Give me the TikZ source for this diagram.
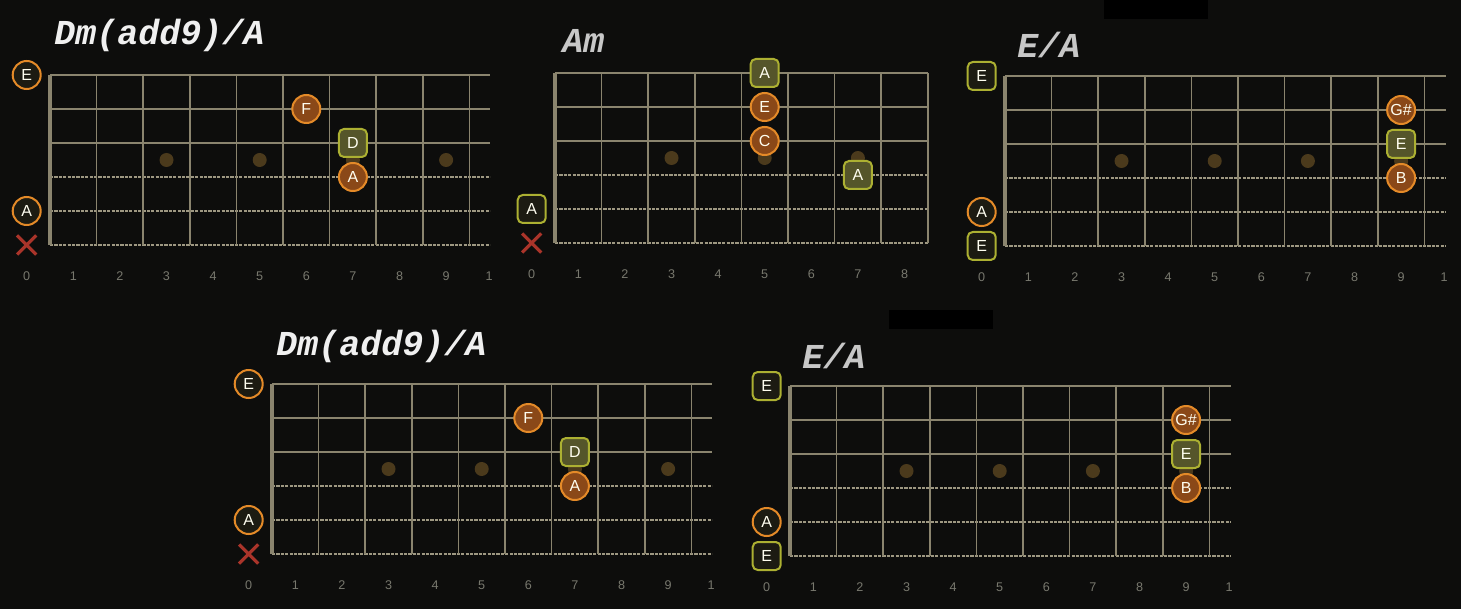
\documentclass[tikz,border=0pt]{standalone}
\usepackage{fontspec}
\setmainfont{Liberation Sans}
\newfontfamily\chordfont{Liberation Mono}
\usetikzlibrary{shapes.misc}

\definecolor{bgdark}{RGB}{13,13,12}
\definecolor{gridtan}{RGB}{138,132,110}
\definecolor{dottan}{RGB}{158,152,130}
\definecolor{inlaybrown}{RGB}{75,58,28}
\definecolor{orangeline}{RGB}{228,138,40}
\definecolor{orangefill}{RGB}{138,72,24}
\definecolor{olivefill}{RGB}{85,85,42}
\definecolor{oliveline}{RGB}{172,176,50}
\definecolor{openfill}{RGB}{28,27,18}
\definecolor{mutered}{RGB}{170,52,42}
\definecolor{numgrey}{RGB}{120,120,110}

\tikzset{
  gtrstring/.style={gridtan, line width=0.75pt},
  dotstring/.style={dottan, line width=1.3pt, dash pattern=on 1.6pt off 0.6pt},
  gtrfret/.style={gridtan, line width=0.75pt},
  gtrnut/.style={gridtan, line width=1.8pt},
  inlay/.style={inlaybrown},
  fretnum/.style={numgrey, font=\fontsize{6.3}{7}\selectfont, inner sep=0pt},
  chordname/.style={anchor=base west, inner sep=0pt,
    font=\chordfont\bfseries\itshape\fontsize{17.5}{20}\selectfont},
  note/.style={minimum size=14pt, inner sep=0pt, line width=1pt,
    text=white!94!yellow, font=\fontsize{8}{9}\selectfont},
  orangenote/.style={note, circle, draw=orangeline, fill=orangefill},
  orangeopen/.style={note, circle, draw=orangeline, fill=openfill},
  olivenote/.style={note, rectangle, rounded corners=2.5pt, draw=oliveline, fill=olivefill},
  oliveopen/.style={note, rectangle, rounded corners=2.5pt, draw=oliveline, fill=openfill},
  mutex/.style={cross out, draw=mutered, line width=1.6pt, minimum size=8pt, inner sep=0pt},
}

\def\fw{46.6}
% #1 prefix, #2 frets, #3 string length, #4 inlay frets
\newcommand{\neck}[4]{%
  \foreach \s in {0,1,2} \draw[gtrstring] (0,\s*34) -- (#3,\s*34);
  \foreach \s in {3,4,5} \draw[dotstring] (0,\s*34) -- (#3,\s*34);
  \foreach \f in {1,...,#2} \draw[gtrfret] (\f*\fw,0) -- (\f*\fw,170);
  \draw[gtrnut] (0,0) -- (0,170);
  \foreach \f in {#4} \fill[inlay] (\f*\fw-0.5*\fw,85) circle (3.5pt);
  \foreach \f in {0,...,#2} \node[fretnum] (#1n\f) at (\f*\fw-0.5*\fw,201) {\f};
}

\begin{document}
\begin{tikzpicture}[x=0.5pt, y=-0.5pt]
\useasboundingbox (0,0) rectangle (1461,609);
\fill[bgdark] (0,0) rectangle (1461,609);

% Dm(add9)/A, top
\begin{scope}[shift={(50,75)}]
  \neck{a}{9}{440}{3,5,7,9}
  \node[fretnum] (an10) at (439,201) {1};
  \node[chordname, white!94!black] (atitle) at (4,-30) {Dm(add9)/A};
  \node[orangeopen] (aE) at (-0.5*\fw,0) {E};
  \node[orangenote] (aF) at (5.5*\fw,34) {F};
  \node[olivenote] (aD) at (6.5*\fw,68) {D};
  \node[orangenote] (aA) at (6.5*\fw,102) {A};
  \node[orangeopen] (aAo) at (-0.5*\fw,136) {A};
  \node[mutex] (ax) at (-0.5*\fw,170) {};
\end{scope}

% Am
\begin{scope}[shift={(555,73)}]
  \neck{b}{8}{373}{3,5,7}
  \node[chordname, white!78!black] (btitle) at (7,-20) {Am};
  \node[olivenote] (bA) at (4.5*\fw,0) {A};
  \node[orangenote] (bE) at (4.5*\fw,34) {E};
  \node[orangenote] (bC) at (4.5*\fw,68) {C};
  \node[olivenote] (bAh) at (6.5*\fw,102) {A};
  \node[oliveopen] (bAo) at (-0.5*\fw,136) {A};
  \node[mutex] (bx) at (-0.5*\fw,170) {};
\end{scope}

% E/A, top
\begin{scope}[shift={(1005,76)}]
  \fill[black] (99,-76) rectangle (203,-57);
  \neck{c}{9}{441}{3,5,7,9}
  \node[fretnum] (cn10) at (439,201) {1};
  \node[chordname, white!78!black] (ctitle) at (12,-18) {E/A};
  \node[oliveopen] (cEo) at (-0.5*\fw,0) {E};
  \node[orangenote] (cG) at (8.5*\fw,34) {G\#};
  \node[olivenote] (cE) at (8.5*\fw,68) {E};
  \node[orangenote] (cB) at (8.5*\fw,102) {B};
  \node[orangeopen] (cAo) at (-0.5*\fw,136) {A};
  \node[oliveopen] (cEl) at (-0.5*\fw,170) {E};
\end{scope}

% Dm(add9)/A, bottom
\begin{scope}[shift={(272,384)}]
  \neck{d}{9}{440}{3,5,7,9}
  \node[fretnum] (dn10) at (439,201) {1};
  \node[chordname, white!94!black] (dtitle) at (4,-29) {Dm(add9)/A};
  \node[orangeopen] (dE) at (-0.5*\fw,0) {E};
  \node[orangenote] (dF) at (5.5*\fw,34) {F};
  \node[olivenote] (dD) at (6.5*\fw,68) {D};
  \node[orangenote] (dA) at (6.5*\fw,102) {A};
  \node[orangeopen] (dAo) at (-0.5*\fw,136) {A};
  \node[mutex] (dx) at (-0.5*\fw,170) {};
\end{scope}

% E/A, bottom
\begin{scope}[shift={(790,386)}]
  \fill[black] (99,-76) rectangle (203,-57);
  \neck{e}{9}{441}{3,5,7,9}
  \node[fretnum] (en10) at (439,201) {1};
  \node[chordname, white!78!black] (etitle) at (12,-18) {E/A};
  \node[oliveopen] (eEo) at (-0.5*\fw,0) {E};
  \node[orangenote] (eG) at (8.5*\fw,34) {G\#};
  \node[olivenote] (eE) at (8.5*\fw,68) {E};
  \node[orangenote] (eB) at (8.5*\fw,102) {B};
  \node[orangeopen] (eAo) at (-0.5*\fw,136) {A};
  \node[oliveopen] (eEl) at (-0.5*\fw,170) {E};
\end{scope}

\end{tikzpicture}
\end{document}
